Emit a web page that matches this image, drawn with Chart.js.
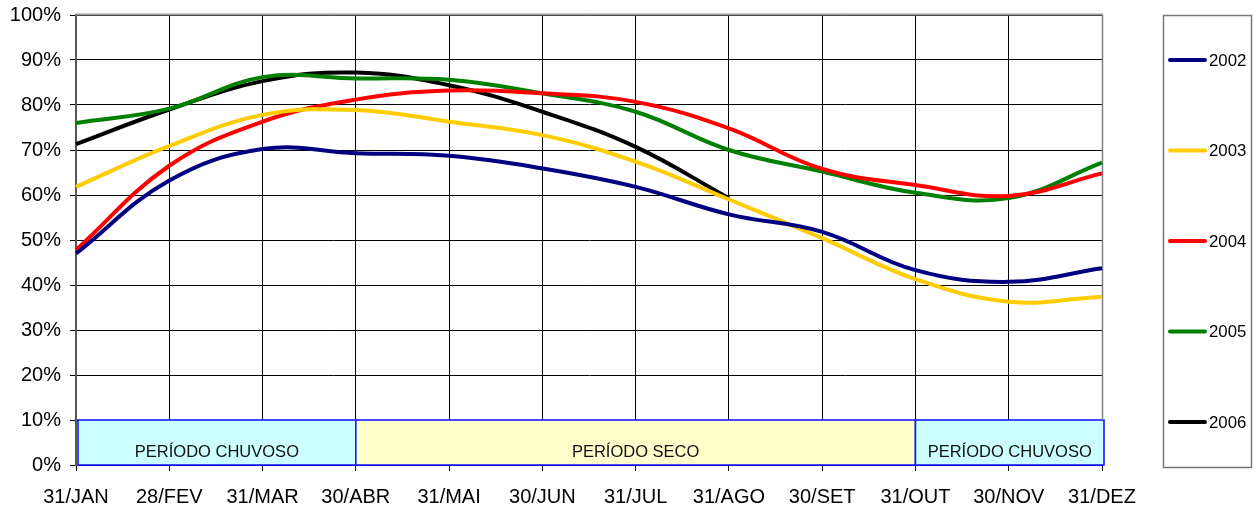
<!DOCTYPE html>
<html><head><meta charset="utf-8">
<script src="https://cdn.jsdelivr.net/npm/chart.js@4/dist/chart.umd.min.js"></script>
<style>html,body{margin:0;padding:0;background:#fff;}#wrap{width:1257px;height:512px;}</style>
</head><body><div id="wrap"><canvas id="c" width="1257" height="512"></canvas></div>
<script>
const labels = ['31/JAN','28/FEV','31/MAR','30/ABR','31/MAI','30/JUN','31/JUL','31/AGO','30/SET','31/OUT','30/NOV','31/DEZ'];
const seriesNames = ['2002','2003','2004','2005','2006'];
const colors = ['#000080','#FFCC00','#FF0000','#008000','#000000'];
const d2002 = [47.0, 63.2, 70.2, 69.3, 68.7, 65.9, 61.8, 55.7, 51.8, 43.3, 40.7, 43.7];
const d2003 = [61.8, 70.9, 77.8, 78.9, 76.3, 73.3, 67.4, 59.0, 50.4, 41.3, 36.3, 37.4];
const d2004 = [47.8, 66.5, 76.3, 81.2, 83.2, 82.6, 80.7, 74.8, 65.8, 62.2, 59.8, 64.8];
const d2005 = [76.0, 79.2, 86.2, 85.9, 85.6, 82.6, 78.5, 70.0, 65.2, 60.5, 59.3, 67.2];
const d2006 = [71.3, 79.0, 85.3, 87.2, 84.4, 78.5, 70.7, 59.3, null, null, null, null];
const seriesData = [d2002, d2003, d2004, d2005, d2006];
// periods
const periodNames = ['PERÍODO CHUVOSO','PERÍODO SECO','PERÍODO CHUVOSO'];
const periodStart = [0, 3, 9];
const periodEnd = [3, 9, 11];
const periodFill = ['#CCFFFF','#FFFFCC','#CCFFFF'];
const periodTop = 10;

const FONT = "'Liberation Sans', Arial, sans-serif";
Chart.defaults.font.family = FONT;
Chart.defaults.color = '#000';

const periodPlugin = {
  id: 'periods',
  beforeDatasetsDraw(chart) {
    const ctx = chart.ctx, xs = chart.scales.x, ys = chart.scales.y, ca = chart.chartArea;
    ctx.save();
    const yTop = ys.getPixelForValue(periodTop), yBot = ys.getPixelForValue(0);
    for (let i = 0; i < periodNames.length; i++) {
      let x0 = xs.getPixelForValue(periodStart[i]);
      let x1 = xs.getPixelForValue(periodEnd[i]);
      if (i === 0) x0 += 2;
      if (i === periodNames.length - 1) x1 += 2;
      ctx.fillStyle = periodFill[i];
      ctx.fillRect(x0, yTop, x1 - x0, yBot - yTop);
      ctx.strokeStyle = '#1a1aff';
      ctx.lineWidth = 1.6;
      ctx.strokeRect(x0, yTop, x1 - x0, yBot - yTop);
      ctx.fillStyle = '#111';
      ctx.font = '16.5px ' + FONT;
      ctx.textAlign = 'center';
      ctx.textBaseline = 'middle';
      ctx.fillText(periodNames[i], (x0 + x1) / 2, yTop + (yBot - yTop) * 0.73);
    }
    // top & right border
    ctx.strokeStyle = '#9a9a9a';
    ctx.lineWidth = 2;
    ctx.beginPath();
    ctx.moveTo(ca.left, ca.top - 0.5); ctx.lineTo(ca.right + 1, ca.top - 0.5);
    ctx.stroke();
    ctx.lineWidth = 1.5;
    ctx.strokeStyle = '#808080';
    ctx.beginPath();
    ctx.moveTo(ca.right + 0.5, ca.top); ctx.lineTo(ca.right + 0.5, yTop);
    ctx.stroke();
    ctx.restore();
  },
  afterDraw(chart) {
    const ctx = chart.ctx;
    ctx.save();
    ctx.strokeStyle = '#777';
    ctx.lineWidth = 1.5;
    ctx.strokeRect(1163.5, 15.5, 88, 452);
    const ys0 = 60, step = 90.5;
    chart.data.datasets.forEach((ds, i) => {
      const y = ys0 + i * step;
      ctx.strokeStyle = ds.borderColor;
      ctx.lineWidth = 4;
      ctx.lineCap = 'round';
      ctx.beginPath(); ctx.moveTo(1170, y); ctx.lineTo(1205, y); ctx.stroke();
      ctx.fillStyle = '#000';
      ctx.font = '16.8px ' + FONT;
      ctx.textAlign = 'left';
      ctx.textBaseline = 'middle';
      ctx.fillText(ds.label, 1209, y + 1);
    });
    ctx.restore();
  }
};

new Chart(document.getElementById('c'), {
  type: 'line',
  data: {
    labels: labels,
    datasets: seriesNames.map((n, i) => ({
      label: n,
      data: seriesData[i],
      borderColor: colors[i],
      backgroundColor: colors[i],
      borderWidth: 4,
      pointRadius: 0,
      tension: 0.4,
      fill: false,
      spanGaps: false
    }))
  },
  options: {
    responsive: false,
    animation: false,
    events: [],
    layout: { padding: { top: 15, right: 155, left: 0, bottom: 0 } },
    plugins: { legend: { display: false }, tooltip: { enabled: false } },
    scales: {
      x: {
        offset: false,
        grid: { color: '#000', lineWidth: 1, tickLength: 6, tickColor: '#000' },
        border: { color: '#000', width: 1 },
        ticks: { font: { size: 20 }, color: '#000', padding: 14, maxRotation: 0, autoSkip: false },
        afterFit(s) { s.height = 47; s.paddingLeft = 0; s.paddingRight = 0; }
      },
      y: {
        min: 0, max: 100,
        grid: { color: '#000', lineWidth: 1, tickLength: 6, tickColor: '#000' },
        border: { color: '#555', width: 2 },
        ticks: { stepSize: 10, font: { size: 20 }, color: '#000', padding: 9, callback: v => v + '%' },
        afterFit(s) { s.width = 76; s.paddingTop = 0; s.paddingBottom = 0; }
      }
    }
  },
  plugins: [periodPlugin]
});
</script>
</body></html>
